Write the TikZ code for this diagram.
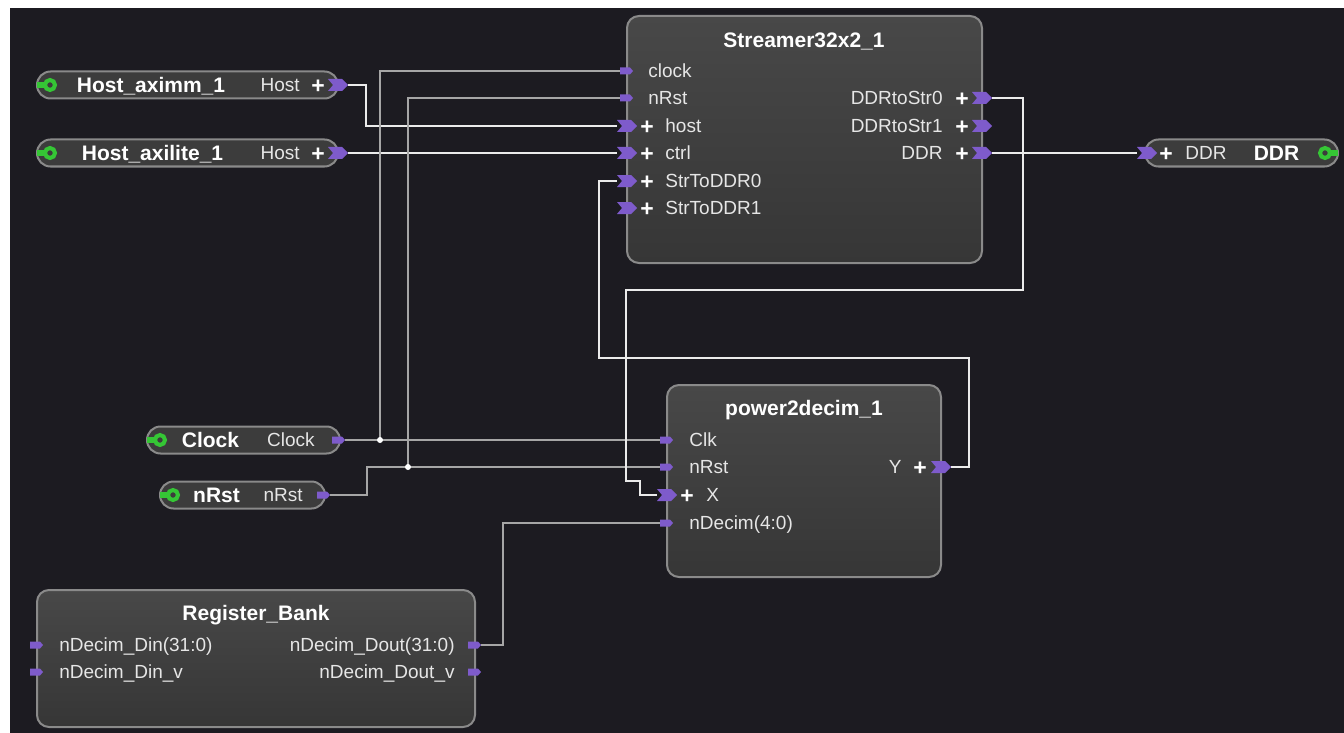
\documentclass[tikz,border=0pt]{standalone}
\usepackage{fontspec}
\setmainfont{Liberation Sans}
\usetikzlibrary{positioning}

\definecolor{canvas}{HTML}{1C1B21}
\definecolor{blockhi}{HTML}{484848}
\definecolor{blocklo}{HTML}{363636}
\definecolor{pillfill}{HTML}{3C3C3C}
\definecolor{edgegrey}{HTML}{8A8A8A}
\definecolor{portpurple}{HTML}{7E5BCB}
\definecolor{portgreen}{HTML}{35C635}
\definecolor{labeltext}{HTML}{E6E6E6}
\definecolor{thinwire}{HTML}{A6A6A6}

\tikzset{
	blockbox/.style={draw=edgegrey, line width=1pt, rounded corners=6pt, top color=blockhi, bottom color=blocklo, inner sep=0pt},
	pillbox/.style={draw=edgegrey, line width=1pt, rounded corners=6.75pt, fill=pillfill, minimum height=13.5pt, inner sep=0pt},
	portlabel/.style={text=labeltext, font=\fontsize{9.5}{11}\selectfont, inner sep=0pt, text height=6.8pt, text depth=0pt},
	titlelabel/.style={text=white, font=\fontsize{10.5}{12}\selectfont\bfseries, inner sep=0pt, text height=7.5pt, text depth=0pt},
	pluslabel/.style={text=white, font=\fontsize{11.5}{12}\selectfont\bfseries, inner sep=0pt, text height=8.2pt, text depth=0pt},
	buswire/.style={draw=white!92!black, line width=1pt},
	sigwire/.style={draw=thinwire, line width=0.6pt},
	pics/sigtag/.style={code={\fill[portpurple] (-7,-3.5) -- (3,-3.5) -- (6,0) -- (3,3.5) -- (-7,3.5) -- cycle;}},
	pics/bustag/.style={code={\fill[portpurple] (-10,-6) -- (4,-6) -- (10,0) -- (4,6) -- (-10,6) -- (-5,0) -- cycle;}},
	pics/hostend/.style={code={
		\fill[portgreen] (1,-3) rectangle (9,3);
		\draw[portgreen, line width=2pt] (14,0) circle (5);
	}}
}

\begin{document}
\begin{tikzpicture}[x=0.5pt, y=-0.5pt]
	\useasboundingbox (0,0) rectangle (1344,733);
	\fill[white] (0,0) rectangle (1344,733);
	\fill[canvas] (10,8) rectangle (1344,733);

	% blocks
	\node[blockbox, minimum width=177.5pt, minimum height=123.5pt] (streamer) at (804.5,139.5) {};
	\node[titlelabel] (streamer-title) at (804,40) {Streamer32x2\_1};
	\node[blockbox, minimum width=137pt, minimum height=96pt] (decim) at (804,481) {};
	\node[titlelabel] (decim-title) at (804,408) {power2decim\_1};
	\node[blockbox, minimum width=219pt, minimum height=68.5pt] (regbank) at (256,658.5) {};
	\node[titlelabel] (regbank-title) at (256,613) {Register\_Bank};

	% external ports
	\node[pillbox, minimum width=150.5pt] (ham) at (187.5,85) {};
	\node[titlelabel] (ham-name) at (151,85) {Host\_aximm\_1};
	\node[portlabel, anchor=east] (ham-lbl) at (300,85) {Host};
	\node[pluslabel] (ham-plus) at (318,85) {+};
	\pic at (ham.west) {hostend};
	\pic at (338,85) {bustag};
	\coordinate (ham-host) at (348,85);

	\node[pillbox, minimum width=150.5pt] (hal) at (187.5,153) {};
	\node[titlelabel] (hal-name) at (152.5,153) {Host\_axilite\_1};
	\node[portlabel, anchor=east] (hal-lbl) at (300,153) {Host};
	\node[pluslabel] (hal-plus) at (318,153) {+};
	\pic at (hal.west) {hostend};
	\pic at (338,153) {bustag};
	\coordinate (hal-host) at (348,153);

	\node[pillbox, minimum width=96.5pt] (clk) at (243.5,440) {};
	\node[titlelabel] (clk-name) at (210.5,440) {Clock};
	\node[portlabel, anchor=east] (clk-lbl) at (315,440) {Clock};
	\pic at (clk.west) {hostend};
	\pic at (339,440) {sigtag};
	\coordinate (clk-out) at (345,440);

	\node[pillbox, minimum width=82.5pt] (rst) at (242.5,495) {};
	\node[titlelabel] (rst-name) at (216.5,495) {nRst};
	\node[portlabel, anchor=east] (rst-lbl) at (303,495) {nRst};
	\pic at (rst.west) {hostend};
	\pic at (324,495) {sigtag};
	\coordinate (rst-out) at (330,495);

	\node[pillbox, minimum width=96.5pt] (ddr) at (1241.5,153) {};
	\node[titlelabel] (ddr-name) at (1276.5,153) {DDR};
	\node[pluslabel] (ddr-plus) at (1166,153) {+};
	\node[portlabel, anchor=west] (ddr-lbl) at (1185,153) {DDR};
	\pic[xscale=-1] at (ddr.east) {hostend};
	\pic at (1147,153) {bustag};
	\coordinate (ddr-in) at (1137,153);

	% Streamer32x2_1 ports
	\foreach \nm/\yy in {clock/71, nRst/98} {
		\pic at (627,\yy) {sigtag};
		\coordinate (s-\nm) at (620,\yy);
		\node[portlabel, anchor=west] (s-\nm-lbl) at (648,\yy) {\nm};
	}
	\foreach \nm/\yy in {host/126, ctrl/153, StrToDDR0/181, StrToDDR1/208} {
		\pic at (627,\yy) {bustag};
		\coordinate (s-\nm) at (617,\yy);
		\node[pluslabel] (s-\nm-plus) at (647,\yy) {+};
		\node[portlabel, anchor=west] (s-\nm-lbl) at (665,\yy) {\nm};
	}
	\foreach \nm/\yy in {DDRtoStr0/98, DDRtoStr1/126, DDR/153} {
		\pic at (982,\yy) {bustag};
		\coordinate (s-\nm) at (992,\yy);
		\node[pluslabel] (s-\nm-plus) at (962,\yy) {+};
		\node[portlabel, anchor=east] (s-\nm-lbl) at (943,\yy) {\nm};
	}

	% power2decim_1 ports
	\foreach \id/\txt/\yy in {Clk/Clk/440, nRst/nRst/467, nDecim/nDecim(4:0)/523} {
		\pic at (667,\yy) {sigtag};
		\coordinate (p-\id) at (660,\yy);
		\node[portlabel, anchor=west] (p-\id-lbl) at (689,\yy) {\txt};
	}
	\pic at (667,495) {bustag};
	\coordinate (p-X) at (657,495);
	\node[pluslabel] (p-X-plus) at (687,495) {+};
	\node[portlabel, anchor=west] (p-X-lbl) at (706,495) {X};
	\pic at (941,467) {bustag};
	\coordinate (p-Y) at (951,467);
	\node[pluslabel] (p-Y-plus) at (920,467) {+};
	\node[portlabel, anchor=east] (p-Y-lbl) at (902,467) {Y};

	% Register_Bank ports
	\foreach \id/\txt/\yy in {din/nDecim\_Din(31:0)/645, dinv/nDecim\_Din\_v/672} {
		\pic at (37,\yy) {sigtag};
		\node[portlabel, anchor=west] (r-\id-lbl) at (59,\yy) {\txt};
	}
	\foreach \id/\txt/\yy in {dout/nDecim\_Dout(31:0)/645, doutv/nDecim\_Dout\_v/672} {
		\pic at (475,\yy) {sigtag};
		\coordinate (r-\id) at (481,\yy);
		\node[portlabel, anchor=east] (r-\id-lbl) at (455,\yy) {\txt};
	}

	% wires
	\coordinate (jclk) at (380,440);
	\coordinate (jrst) at (408,467);
	\draw[buswire] (ham-host) -- ++(18,0) |- (s-host);
	\draw[buswire] (hal-host) -- (s-ctrl);
	\draw[buswire] (s-DDR) -- (ddr-in);
	\draw[sigwire] (clk-out) -- (p-Clk);
	\draw[sigwire] (jclk) |- (s-clock);
	\draw[sigwire] (rst-out) -- ++(37,0) |- (p-nRst);
	\draw[sigwire] (jrst) |- (s-nRst);
	\draw[buswire] (s-DDRtoStr0) -- ++(31,0) -- ++(0,192) -- ++(-397,0) -- ++(0,191) -- ++(14,0) |- (p-X);
	\draw[buswire] (p-Y) -- ++(18,0) -- ++(0,-109) -- ++(-370,0) |- (s-StrToDDR0);
	\draw[sigwire] (r-dout) -- ++(22,0) |- (p-nDecim);
	\fill[white] (jclk) circle (3);
	\fill[white] (jrst) circle (3);
\end{tikzpicture}
\end{document}
